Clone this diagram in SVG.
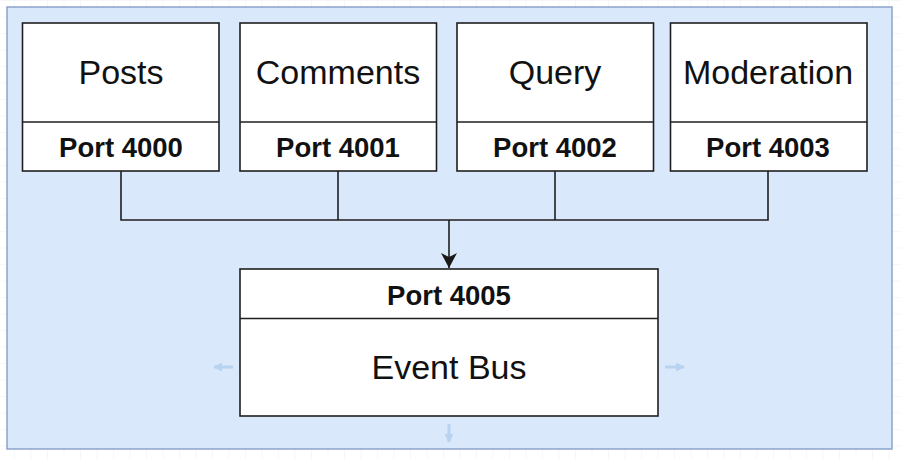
<svg xmlns="http://www.w3.org/2000/svg" width="901" height="459" viewBox="0 0 901 459">
  <defs>
    <pattern id="grid" x="14" y="0" width="16.5" height="16.5" patternUnits="userSpaceOnUse">
      <path d="M 0 0 L 0 16.5 M 0 0 L 16.5 0" fill="none" stroke="#eef0f3" stroke-width="1"/>
    </pattern>
    <marker id="arrow" viewBox="0 0 16 16" refX="15" refY="8" markerWidth="16" markerHeight="16" markerUnits="userSpaceOnUse" orient="auto">
      <path d="M 0 0 L 15 8 L 0 16 L 4 8 Z" fill="#1a1a1a"/>
    </marker>
    <marker id="hint" viewBox="0 0 10 10" refX="9" refY="5" markerWidth="9" markerHeight="9" markerUnits="userSpaceOnUse" orient="auto">
      <path d="M 0 0 L 10 5 L 0 10 Z" fill="#b7d3ef"/>
    </marker>
  </defs>
  <style>
    .box { fill: #ffffff; stroke: #1f1f1f; stroke-width: 1.6; }
    .div { stroke: #1f1f1f; stroke-width: 1.6; }
    .title { font-family: "Liberation Sans", Arial, sans-serif; font-size: 34px; fill: #111111; text-anchor: middle; }
    .port { font-family: "Liberation Sans", Arial, sans-serif; font-size: 27.5px; font-weight: bold; fill: #111111; text-anchor: middle; }
    .conn { fill: none; stroke: #1f1f1f; stroke-width: 1.6; }
    .hint { fill: none; stroke: #b7d3ef; stroke-width: 3; }
  </style>
  <rect x="0" y="0" width="901" height="459" fill="#ffffff"/>
  <rect x="0" y="0" width="901" height="459" fill="url(#grid)"/>
  <rect id="container" x="7" y="7" width="885" height="442" fill="#dae8fc" stroke="#8aa4cc" stroke-width="1.5"/>

  <g id="connectors">
    <path class="conn" d="M 121 171 L 121 220 L 768 220 L 768 171"/>
    <path class="conn" d="M 338 171 L 338 220"/>
    <path class="conn" d="M 555 171 L 555 220"/>
    <path class="conn" d="M 449 220 L 449 268" marker-end="url(#arrow)"/>
  </g>

  <g id="posts">
    <rect class="box" x="22.5" y="23" width="196.5" height="148"/>
    <line class="div" x1="22.5" y1="122" x2="219" y2="122"/>
    <text class="title" x="121" y="84">Posts</text>
    <text class="port" x="121" y="157">Port 4000</text>
  </g>
  <g id="comments">
    <rect class="box" x="240" y="23" width="196.5" height="148"/>
    <line class="div" x1="240" y1="122" x2="436.5" y2="122"/>
    <text class="title" x="338" y="84">Comments</text>
    <text class="port" x="338" y="157">Port 4001</text>
  </g>
  <g id="query">
    <rect class="box" x="457" y="23" width="196.5" height="148"/>
    <line class="div" x1="457" y1="122" x2="653.5" y2="122"/>
    <text class="title" x="555" y="84">Query</text>
    <text class="port" x="555" y="157">Port 4002</text>
  </g>
  <g id="moderation">
    <rect class="box" x="670.5" y="23" width="196.5" height="148"/>
    <line class="div" x1="670.5" y1="122" x2="867" y2="122"/>
    <text class="title" x="768" y="84">Moderation</text>
    <text class="port" x="768" y="157">Port 4003</text>
  </g>
  <g id="event-bus">
    <rect class="box" x="240" y="269" width="418" height="147"/>
    <line class="div" x1="240" y1="318.5" x2="658" y2="318.5"/>
    <text class="port" x="449" y="305">Port 4005</text>
    <text class="title" x="449" y="379">Event Bus</text>
  </g>

  <g id="hover-hints">
    <line class="hint" x1="233" y1="367" x2="214" y2="367" marker-end="url(#hint)"/>
    <line class="hint" x1="665" y1="367" x2="684" y2="367" marker-end="url(#hint)"/>
    <line class="hint" x1="449" y1="424" x2="449" y2="442" marker-end="url(#hint)"/>
  </g>
</svg>
